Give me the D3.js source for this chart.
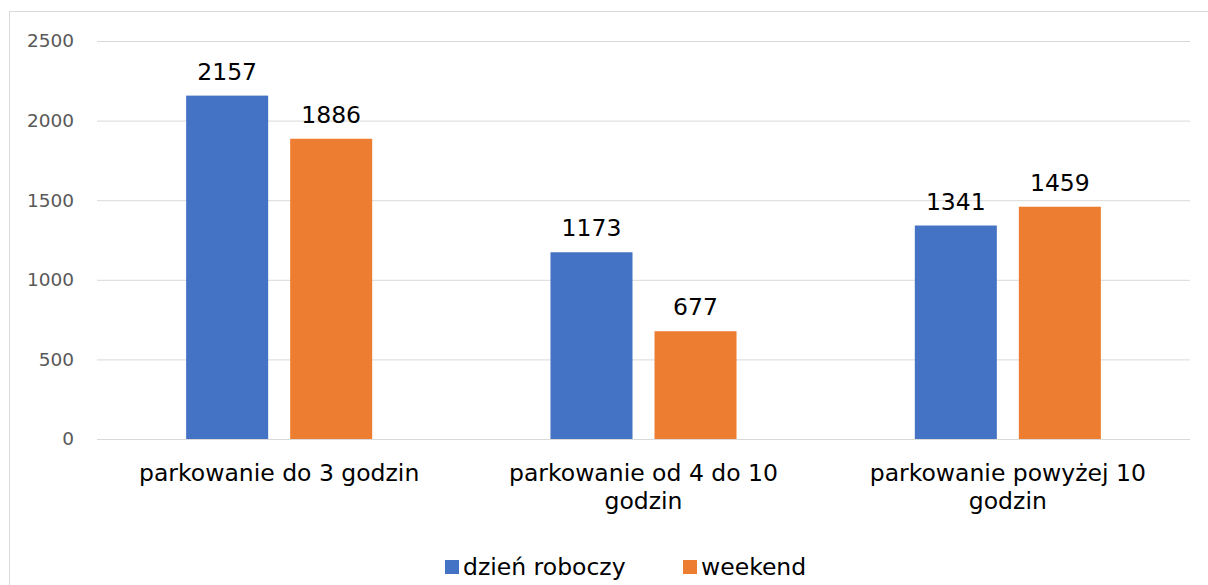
<!DOCTYPE html>
<html>
<head>
<meta charset="utf-8">
<script src="https://cdn.jsdelivr.net/npm/d3@7"></script>
<style>
  body { margin: 0; background: #fff; }
  text { font-family: "DejaVu Sans", Verdana, sans-serif; }
</style>
</head>
<body>
<div id="chart-area"></div>
<script>
// Data
const categories = [
	["parkowanie do 3 godzin"],
	["parkowanie od 4 do 10", "godzin"],
	["parkowanie powyżej 10", "godzin"]
];
const seriesNames = ["dzień roboczy", "weekend"];
const workday = [2157, 1173, 1341];
const weekend = [1886, 677, 1459];
const yTicks = [0, 500, 1000, 1500, 2000, 2500];
const colors = ["#4472C4", "#ED7D31"];

let width = 1208,
	height = 585;

let svg = d3.select("#chart-area").append("svg")
	.attr("width", width)
	.attr("height", height);

// chart border
svg.append("rect")
	.attr("x", 9.5)
	.attr("y", 11.5)
	.attr("width", 1220)
	.attr("height", 600)
	.attr("fill", "#fff")
	.attr("stroke", "#d9d9d9");

let plot = {left: 97, right: 1190, top: 41, bottom: 439};

let x0 = d3.scaleBand()
	.domain(d3.range(categories.length))
	.range([plot.left, plot.right]);

let x1 = d3.scaleBand()
	.domain([0, 1])
	.range([0, x0.bandwidth()])
	.paddingInner(0.2115)
	.paddingOuter(0.857);

let y = d3.scaleLinear()
	.domain([0, 2500])
	.range([plot.bottom, plot.top]);

// gridlines + y labels
let yAxis = d3.axisLeft(y)
	.tickValues(yTicks)
	.tickFormat(d3.format("d"))
	.tickSize(-(plot.right - plot.left))
	.tickPadding(23);

let gy = svg.append("g")
	.attr("transform", "translate(" + plot.left + ",0)")
	.call(yAxis);
gy.select(".domain").remove();
gy.selectAll("line").attr("stroke", "#d9d9d9");
gy.selectAll("text")
	.attr("fill", "#595959")
	.attr("font-size", "18.5px")
	.style("font-family", "DejaVu Sans, Verdana, sans-serif");

let rows = categories.map((c, i) => [workday[i], weekend[i]]);

let groups = svg.selectAll(".grp")
	.data(rows)
	.enter()
	.append("g")
	.attr("class", "grp")
	.attr("transform", (d, i) => "translate(" + x0(i) + ",0)");

groups.selectAll("rect")
	.data(d => d)
	.enter()
	.append("rect")
	.attr("x", (d, j) => x1(j))
	.attr("y", d => y(d))
	.attr("width", x1.bandwidth())
	.attr("height", d => y(0) - y(d))
	.attr("fill", (d, j) => colors[j]);

// value labels
groups.selectAll(".val")
	.data(d => d)
	.enter()
	.append("text")
	.attr("class", "val")
	.attr("x", (d, j) => x1(j) + x1.bandwidth() / 2)
	.attr("y", d => y(d) - 16)
	.attr("text-anchor", "middle")
	.attr("font-size", "23.5px")
	.attr("fill", "#000")
	.text(d => d);

// category labels
let catLabels = svg.selectAll(".cat")
	.data(categories)
	.enter()
	.append("text")
	.attr("class", "cat")
	.attr("x", (d, i) => x0(i) + x0.bandwidth() / 2)
	.attr("y", 481)
	.attr("text-anchor", "middle")
	.attr("font-size", "23.5px")
	.attr("fill", "#000");

catLabels.selectAll("tspan")
	.data(d => d)
	.enter()
	.append("tspan")
	.attr("x", function() { return d3.select(this.parentNode).attr("x"); })
	.attr("dy", (d, k) => k === 0 ? 0 : 28)
	.text(d => d);

// legend
let legendX = [445, 683];
let legend = svg.selectAll(".leg")
	.data(seriesNames)
	.enter()
	.append("g")
	.attr("class", "leg")
	.attr("transform", (d, i) => "translate(" + legendX[i] + ",560)");

legend.append("rect")
	.attr("width", 14)
	.attr("height", 14)
	.attr("fill", (d, i) => colors[i]);

legend.append("text")
	.attr("x", 18)
	.attr("y", 15)
	.attr("font-size", "23.5px")
	.attr("fill", "#000")
	.text(d => d);
</script>
</body>
</html>
